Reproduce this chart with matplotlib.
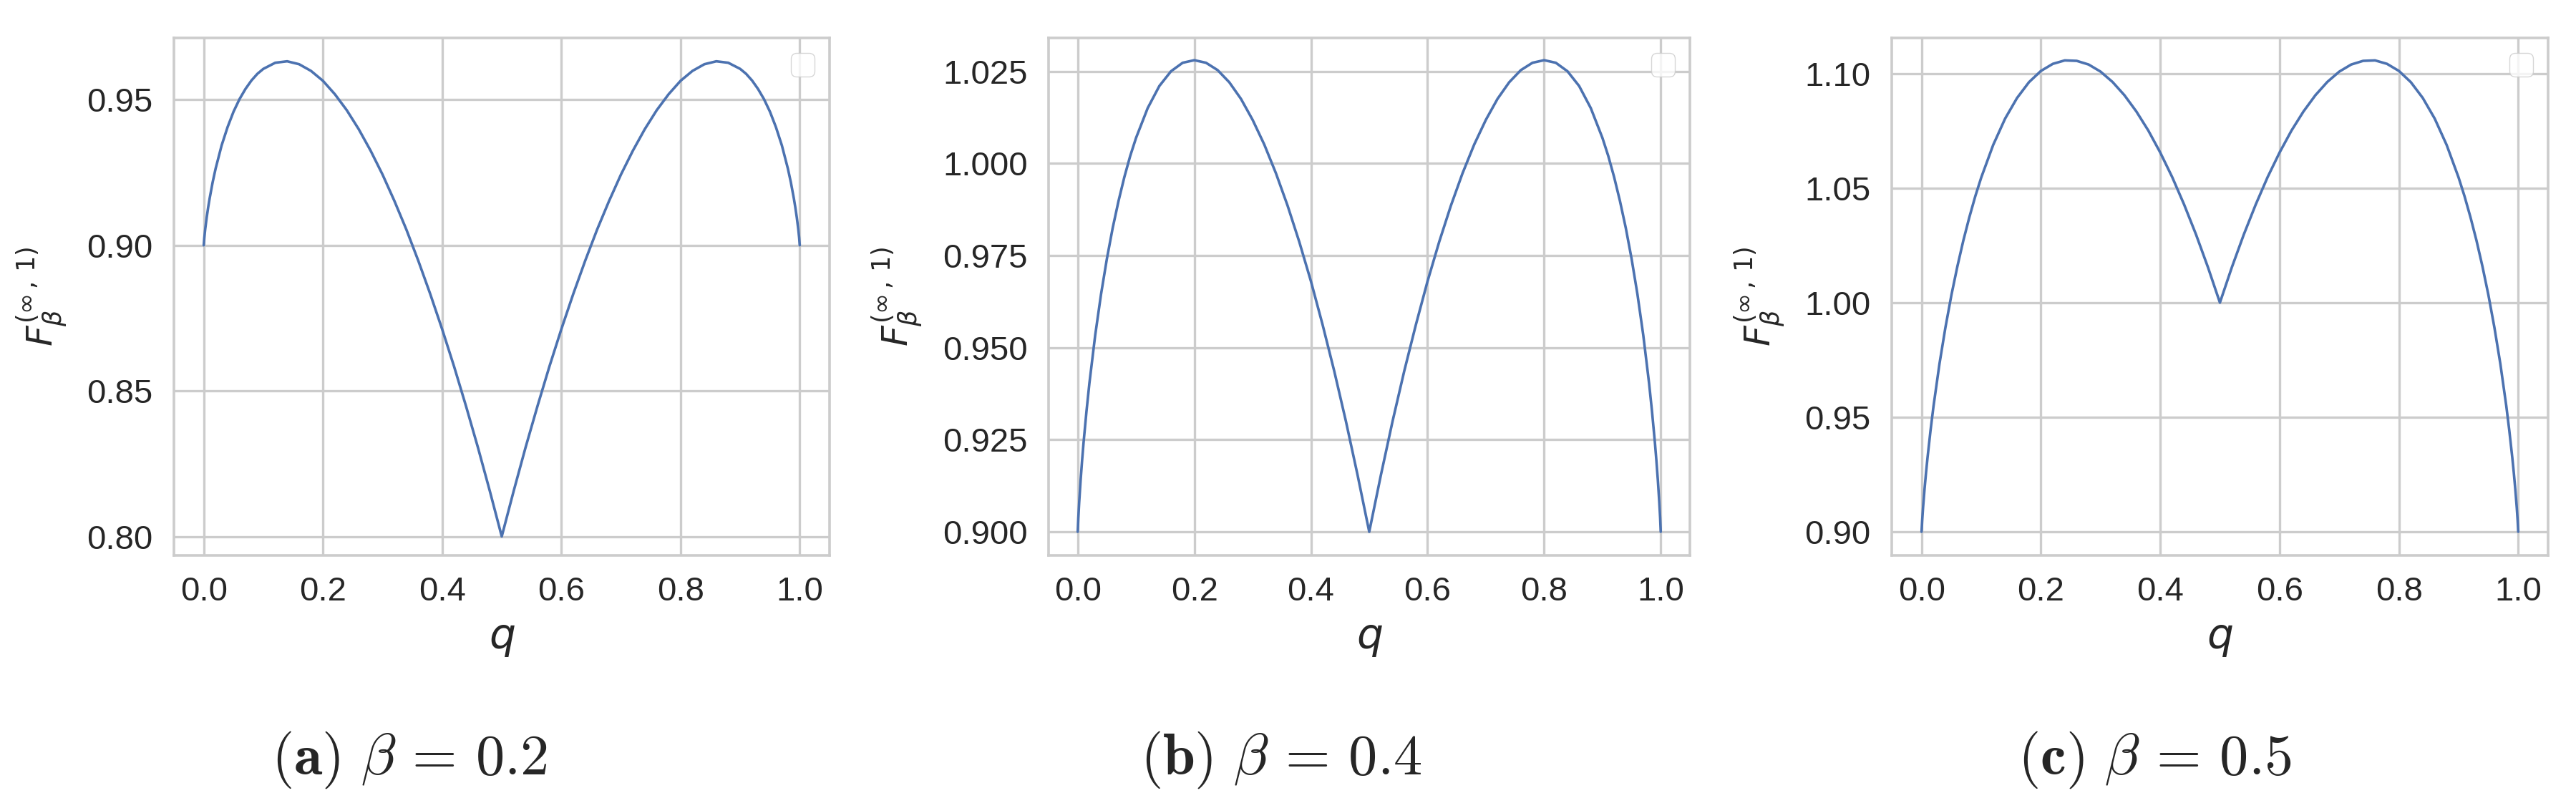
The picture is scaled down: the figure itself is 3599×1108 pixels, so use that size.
import matplotlib
matplotlib.use("Agg")
import matplotlib.pyplot as plt
import seaborn as sns

# q grid and the three curves
q = [0.0, 0.001, 0.0025, 0.005, 0.0075, 0.01, 0.015, 0.02, 0.03, 0.04, 0.05, 0.06, 0.07,
     0.08, 0.09, 0.1, 0.12, 0.14, 0.16, 0.18, 0.2, 0.22, 0.24, 0.26, 0.28, 0.3, 0.32,
     0.34, 0.36, 0.38, 0.4, 0.42, 0.44, 0.46, 0.48, 0.5,
     0.52, 0.54, 0.56, 0.58, 0.6, 0.62, 0.64, 0.66, 0.68, 0.7, 0.72, 0.74, 0.76, 0.78,
     0.8, 0.82, 0.84, 0.86, 0.88, 0.9, 0.91, 0.92, 0.93, 0.94, 0.95, 0.96, 0.97, 0.98,
     0.985, 0.99, 0.9925, 0.995, 0.9975, 0.999, 1.0]

f_beta02 = [0.9, 0.9026, 0.9056, 0.9096, 0.9131, 0.9162, 0.9217, 0.9264, 0.9343, 0.9406,
            0.9459, 0.9502, 0.9537, 0.9566, 0.9589, 0.9606, 0.9627, 0.9632, 0.9622, 0.9599,
            0.9565, 0.9519, 0.9464, 0.9399, 0.9325, 0.9243, 0.9152, 0.9054, 0.8947, 0.8833,
            0.8712, 0.8584, 0.8448, 0.8306, 0.8156, 0.8000,
            0.8156, 0.8306, 0.8448, 0.8584, 0.8712, 0.8833, 0.8947, 0.9054, 0.9152, 0.9243,
            0.9325, 0.9399, 0.9464, 0.9519, 0.9565, 0.9599, 0.9622, 0.9632, 0.9627, 0.9606,
            0.9589, 0.9566, 0.9537, 0.9502, 0.9459, 0.9406, 0.9343, 0.9264, 0.9217, 0.9162,
            0.9131, 0.9096, 0.9056, 0.9026, 0.9]

f_beta04 = [0.9, 0.9037, 0.9080, 0.9141, 0.9194, 0.9242, 0.9327, 0.9403, 0.9534, 0.9645,
            0.9741, 0.9825, 0.9898, 0.9963, 1.0020, 1.0069, 1.0150, 1.0210, 1.0250, 1.0273,
            1.0280, 1.0273, 1.0253, 1.0220, 1.0175, 1.0118, 1.0051, 0.9973, 0.9885, 0.9787,
            0.9680, 0.9562, 0.9436, 0.9300, 0.9154, 0.9000,
            0.9154, 0.9300, 0.9436, 0.9562, 0.9680, 0.9787, 0.9885, 0.9973, 1.0051, 1.0118,
            1.0175, 1.0220, 1.0253, 1.0273, 1.0280, 1.0273, 1.0250, 1.0210, 1.0150, 1.0069,
            1.0020, 0.9963, 0.9898, 0.9825, 0.9741, 0.9645, 0.9534, 0.9403, 0.9327, 0.9242,
            0.9194, 0.9141, 0.9080, 0.9037, 0.9]

f_beta05 = [0.9, 0.9049, 0.9106, 0.9187, 0.9259, 0.9324, 0.9442, 0.9548, 0.9733, 0.9892,
            1.0033, 1.0158, 1.0271, 1.0372, 1.0464, 1.0546, 1.0688, 1.0803, 1.0893, 1.0962,
            1.1011, 1.1042, 1.1057, 1.1055, 1.1039, 1.1008, 1.0963, 1.0905, 1.0834, 1.0751,
            1.0655, 1.0548, 1.0428, 1.0297, 1.0154, 1.0000,
            1.0154, 1.0297, 1.0428, 1.0548, 1.0655, 1.0751, 1.0834, 1.0905, 1.0963, 1.1008,
            1.1039, 1.1055, 1.1057, 1.1042, 1.1011, 1.0962, 1.0893, 1.0803, 1.0688, 1.0546,
            1.0464, 1.0372, 1.0271, 1.0158, 1.0033, 0.9892, 0.9733, 0.9548, 0.9442, 0.9324,
            0.9259, 0.9187, 0.9106, 0.9049, 0.9]

betas = ["0.2", "0.4", "0.5"]
tags = ["a", "b", "c"]
xticks = [0.0, 0.2, 0.4, 0.6, 0.8, 1.0]
yticks_a = [0.80, 0.85, 0.90, 0.95]
yticks_b = [0.900, 0.925, 0.950, 0.975, 1.000, 1.025]
yticks_c = [0.90, 0.95, 1.00, 1.05, 1.10]

sns.set_theme(style="whitegrid")
plt.rcParams["font.family"] = ["Liberation Sans", "DejaVu Sans"]
plt.rcParams["mathtext.fontset"] = "dejavusans"

W, H = 3599, 1108
fig = plt.figure(figsize=(W / 100, H / 100), dpi=100)

# axes boxes in pixels (left, right), shared top/bottom
boxes = [(243, 1159), (1465, 2361), (2643, 3560)]
top, bottom = 52.7, 776
ylims = [(0.7935, 0.9713), (0.8936, 1.0341), (0.8897, 1.1156)]
curves = [f_beta02, f_beta04, f_beta05]
yticks = [yticks_a, yticks_b, yticks_c]
fmts = ["%.2f", "%.3f", "%.2f"]
cap_x = [572, 1790, 3010]

for i in range(3):
    l, r = boxes[i]
    ax = fig.add_axes([l / W, 1 - bottom / H, (r - l) / W, (bottom - top) / H])
    ax.plot(q, curves[i], color="#4c72b0", lw=2.6)
    ax.set_xlim(-0.05, 1.05)
    ax.set_ylim(*ylims[i])
    ax.set_xticks(xticks)
    ax.set_xticklabels(["%.1f" % t for t in xticks])
    ax.set_yticks(yticks[i])
    ax.set_yticklabels([fmts[i] % t for t in yticks[i]])
    ax.tick_params(labelsize=34, pad=21, labelcolor="#262626", length=0)
    ax.grid(True, color="#cccccc", lw=2.4)
    for s in ax.spines.values():
        s.set_color("#cccccc")
        s.set_linewidth(2.6)
    ax.set_xlabel("$q$", fontsize=42, labelpad=12, color="#262626")
    ax.set_ylabel(r"$F_{\beta}^{(\infty\,,\,1)}$", fontsize=36, labelpad=18, color="#262626")
    ax.legend(handles=[], loc="upper right", fontsize=30)

    fig.text(cap_x[i] / W, 1 - 1082 / H,
             r"$(\mathbf{%s})\ \beta\,=\,%s$" % (tags[i], betas[i]),
             ha="center", va="baseline", fontsize=58, math_fontfamily="cm")

fig.savefig("out.png", dpi=100, facecolor="white")
